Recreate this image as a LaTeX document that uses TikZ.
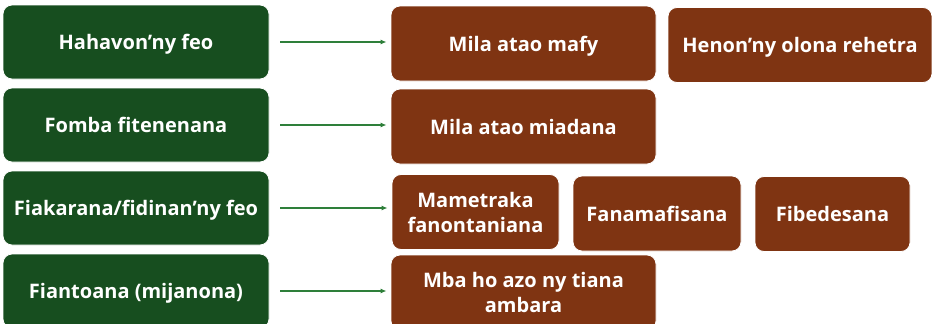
\documentclass[tikz,border=0pt]{standalone}
\usepackage{fontspec}
\setmainfont{Open Sans}
\usepackage{xcolor}
\usepackage{tikz}
\usetikzlibrary{positioning, arrows.meta}
\definecolor{leafgreen}{HTML}{174E1F}
\definecolor{rustbrown}{HTML}{7F3412}
\definecolor{arrowgreen}{HTML}{2E7F3A}

\begin{document}
\begin{tikzpicture}[x=1pt,y=-1pt]
					\tikzstyle{box}=[rectangle,rounded corners=9pt,draw=white,line width=0.8pt,text=white,font=\fontsize{20}{25}\selectfont\bfseries,align=center,inner sep=0pt]
					\tikzstyle{oneline}=[text depth=0pt]
					\tikzstyle{cause}=[box,oneline,fill=leafgreen,minimum width=266pt,minimum height=74pt]
					\tikzstyle{effect}=[box,fill=rustbrown,minimum height=75pt]
					\tikzstyle{link}=[draw=arrowgreen,line width=1.6pt,-{Latex[length=6pt,width=5pt]},shorten <=11pt,shorten >=4pt]
					\useasboundingbox (0,0) rectangle (932,324);
					\clip (0,0) rectangle (932,324);
					% left column
					\node[cause](c1) at (136,42){Hahavon’ny feo};
					\node[cause](c2) at (136,125){Fomba fitenenana};
					\node[cause](c3) at (136,208){Fiakarana/fidinan’ny feo};
					\node[cause](c4) at (136,291){Fiantoana (mijanona)};
					% right column
					\node[effect,oneline,minimum width=265pt](e1) at (523.5,43.5){Mila atao mafy};
					\node[effect,oneline,minimum width=264pt](e1b) at (800,45){Henon’ny olona rehetra};
					\node[effect,oneline,minimum width=265pt](e2) at (523.5,126.5){Mila atao miadana};
					\node[effect,minimum width=167pt](e3) at (475.5,212){Mametraka\\fanontaniana};
					\node[effect,oneline,minimum width=168pt](e3b) at (657,213.5){Fanamafisana};
					\node[effect,oneline,minimum width=155pt](e3c) at (832.5,214){Fibedesana};
					\node[effect,minimum width=265pt](e4) at (523.5,292.5){Mba ho azo ny tiana\\ambara};
					\path[link]
						(c1) edge (c1 -| e1.west)
						(c2) edge (c2 -| e2.west)
						(c3) edge (c3 -| e3.west)
						(c4) edge (c4 -| e4.west);
				\end{tikzpicture}
\end{document}
